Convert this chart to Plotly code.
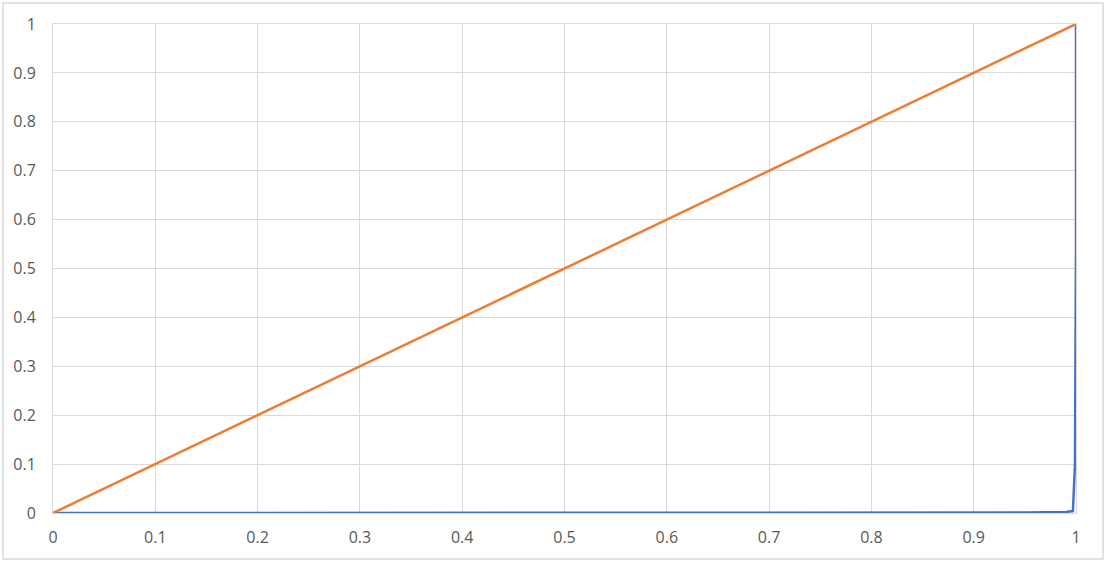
import plotly.graph_objects as go

# diagonal reference line
ref_x = [0, 1]
ref_y = [0, 1]

# measured curve: flat along the bottom, then straight up at x = 1
curve_x = [0, 0.5, 0.87, 0.95, 0.99, 0.997, 0.999, 1.0, 1.0]
curve_y = [0, 0, 0, 0.001, 0.002, 0.004, 0.1, 0.55, 1.0]

tick_vals = [i / 10 for i in range(11)]
tick_text = ["0", "0.1", "0.2", "0.3", "0.4", "0.5", "0.6", "0.7", "0.8", "0.9", "1"]

fig = go.Figure()
fig.add_trace(go.Scatter(x=curve_x, y=curve_y, mode="lines",
                         line=dict(color="#4472C4", width=2.5), showlegend=False))
fig.add_trace(go.Scatter(x=ref_x, y=ref_y, mode="lines",
                         line=dict(color="#ED7D31", width=2.5), showlegend=False))

axis_style = dict(
    range=[0, 1],
    tickvals=tick_vals,
    ticktext=tick_text,
    showgrid=True,
    gridcolor="#d9d9d9",
    gridwidth=1,
    zeroline=False,
    showline=True,
    mirror=True,
    linecolor="#d9d9d9",
    linewidth=1,
    ticks="",
    tickfont=dict(family="Open Sans", size=16, color="#595959"),
    fixedrange=True,
)
fig.update_xaxes(**axis_style, ticklabelstandoff=10)
fig.update_yaxes(**axis_style, ticklabelstandoff=13)

# outer chart border
fig.add_shape(type="rect", xref="paper", yref="paper",
              x0=-0.0489, x1=1.0264, y0=-0.094, y1=1.043,
              line=dict(color="#d9d9d9", width=1.5), layer="below")

fig.update_layout(
    width=1106,
    height=562,
    margin=dict(l=53, r=30, t=24, b=49),
    plot_bgcolor="white",
    paper_bgcolor="white",
)

# drop the page's default body margin so the chart sits at the window's corner
fig.write_html("out.html", post_script="document.body.style.margin='0';",
               config={"displayModeBar": False})
